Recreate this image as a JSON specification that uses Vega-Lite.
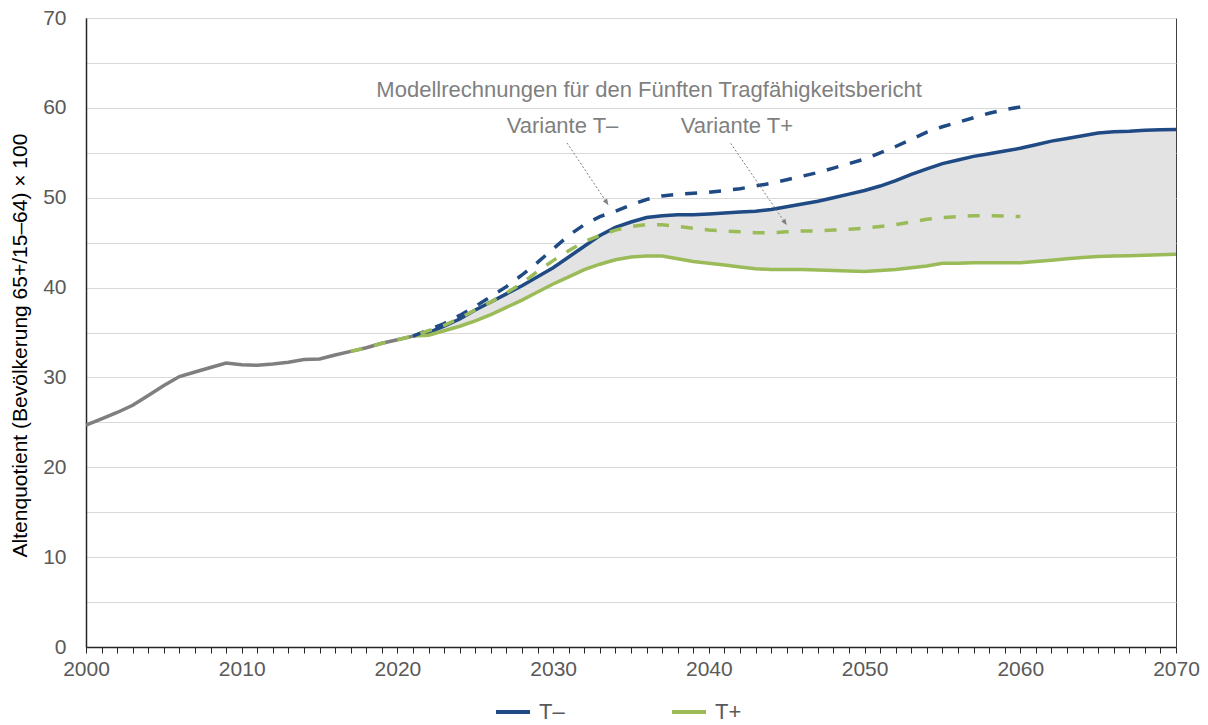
{
  "$schema": "https://vega.github.io/schema/vega-lite/v6.json",
  "width": 1090,
  "height": 629,
  "autosize": {"type": "none"},
  "padding": {"left": 86, "top": 18, "right": 32, "bottom": 78},
  "background": "white",
  "config": {
    "font": "Liberation Sans",
    "view": {"stroke": "#404040", "strokeWidth": 1}
  },
  "datasets": {
    "lines": [
      {"s":"hist","year":2000,"v":24.7},{"s":"hist","year":2001,"v":25.4},{"s":"hist","year":2002,"v":26.1},{"s":"hist","year":2003,"v":26.9},{"s":"hist","year":2004,"v":28.0},{"s":"hist","year":2005,"v":29.1},{"s":"hist","year":2006,"v":30.1},{"s":"hist","year":2007,"v":30.6},{"s":"hist","year":2008,"v":31.1},{"s":"hist","year":2009,"v":31.6},{"s":"hist","year":2010,"v":31.4},{"s":"hist","year":2011,"v":31.35},{"s":"hist","year":2012,"v":31.5},{"s":"hist","year":2013,"v":31.7},{"s":"hist","year":2014,"v":32.0},{"s":"hist","year":2015,"v":32.05},{"s":"hist","year":2016,"v":32.5},{"s":"hist","year":2017,"v":32.9},{"s":"hist","year":2018,"v":33.3},{"s":"hist","year":2019,"v":33.8},{"s":"hist","year":2020,"v":34.2},{"s":"hist","year":2021,"v":34.6},

      {"s":"tm","year":2021,"v":34.6},{"s":"tm","year":2022,"v":35.0},{"s":"tm","year":2023,"v":35.7},{"s":"tm","year":2024,"v":36.5},{"s":"tm","year":2025,"v":37.5},{"s":"tm","year":2026,"v":38.4},{"s":"tm","year":2027,"v":39.3},{"s":"tm","year":2028,"v":40.2},{"s":"tm","year":2029,"v":41.2},{"s":"tm","year":2030,"v":42.2},{"s":"tm","year":2031,"v":43.4},{"s":"tm","year":2032,"v":44.6},{"s":"tm","year":2033,"v":45.8},{"s":"tm","year":2034,"v":46.7},{"s":"tm","year":2035,"v":47.3},{"s":"tm","year":2036,"v":47.8},{"s":"tm","year":2037,"v":48.0},{"s":"tm","year":2038,"v":48.1},{"s":"tm","year":2039,"v":48.1},{"s":"tm","year":2040,"v":48.2},{"s":"tm","year":2041,"v":48.3},{"s":"tm","year":2042,"v":48.4},{"s":"tm","year":2043,"v":48.5},{"s":"tm","year":2044,"v":48.7},{"s":"tm","year":2045,"v":49.0},{"s":"tm","year":2046,"v":49.3},{"s":"tm","year":2047,"v":49.6},{"s":"tm","year":2048,"v":50.0},{"s":"tm","year":2049,"v":50.4},{"s":"tm","year":2050,"v":50.8},{"s":"tm","year":2051,"v":51.3},{"s":"tm","year":2052,"v":51.9},{"s":"tm","year":2053,"v":52.6},{"s":"tm","year":2054,"v":53.2},{"s":"tm","year":2055,"v":53.8},{"s":"tm","year":2056,"v":54.2},{"s":"tm","year":2057,"v":54.6},{"s":"tm","year":2058,"v":54.9},{"s":"tm","year":2059,"v":55.2},{"s":"tm","year":2060,"v":55.5},{"s":"tm","year":2061,"v":55.9},{"s":"tm","year":2062,"v":56.3},{"s":"tm","year":2063,"v":56.6},{"s":"tm","year":2064,"v":56.9},{"s":"tm","year":2065,"v":57.2},{"s":"tm","year":2066,"v":57.35},{"s":"tm","year":2067,"v":57.4},{"s":"tm","year":2068,"v":57.5},{"s":"tm","year":2069,"v":57.55},{"s":"tm","year":2070,"v":57.6},

      {"s":"tp","year":2021,"v":34.6},{"s":"tp","year":2022,"v":34.7},{"s":"tp","year":2023,"v":35.2},{"s":"tp","year":2024,"v":35.7},{"s":"tp","year":2025,"v":36.3},{"s":"tp","year":2026,"v":37.0},{"s":"tp","year":2027,"v":37.8},{"s":"tp","year":2028,"v":38.6},{"s":"tp","year":2029,"v":39.5},{"s":"tp","year":2030,"v":40.4},{"s":"tp","year":2031,"v":41.2},{"s":"tp","year":2032,"v":42.0},{"s":"tp","year":2033,"v":42.6},{"s":"tp","year":2034,"v":43.1},{"s":"tp","year":2035,"v":43.4},{"s":"tp","year":2036,"v":43.5},{"s":"tp","year":2037,"v":43.5},{"s":"tp","year":2038,"v":43.2},{"s":"tp","year":2039,"v":42.9},{"s":"tp","year":2040,"v":42.7},{"s":"tp","year":2041,"v":42.5},{"s":"tp","year":2042,"v":42.3},{"s":"tp","year":2043,"v":42.1},{"s":"tp","year":2044,"v":42.0},{"s":"tp","year":2045,"v":42.0},{"s":"tp","year":2046,"v":42.0},{"s":"tp","year":2047,"v":41.95},{"s":"tp","year":2048,"v":41.9},{"s":"tp","year":2049,"v":41.85},{"s":"tp","year":2050,"v":41.8},{"s":"tp","year":2051,"v":41.9},{"s":"tp","year":2052,"v":42.0},{"s":"tp","year":2053,"v":42.2},{"s":"tp","year":2054,"v":42.4},{"s":"tp","year":2055,"v":42.7},{"s":"tp","year":2056,"v":42.7},{"s":"tp","year":2057,"v":42.75},{"s":"tp","year":2058,"v":42.75},{"s":"tp","year":2059,"v":42.75},{"s":"tp","year":2060,"v":42.75},{"s":"tp","year":2061,"v":42.9},{"s":"tp","year":2062,"v":43.05},{"s":"tp","year":2063,"v":43.2},{"s":"tp","year":2064,"v":43.35},{"s":"tp","year":2065,"v":43.45},{"s":"tp","year":2066,"v":43.5},{"s":"tp","year":2067,"v":43.55},{"s":"tp","year":2068,"v":43.6},{"s":"tp","year":2069,"v":43.65},{"s":"tp","year":2070,"v":43.7},

      {"s":"tm_model","year":2021,"v":34.6},{"s":"tm_model","year":2022,"v":35.3},{"s":"tm_model","year":2023,"v":36.0},{"s":"tm_model","year":2024,"v":36.9},{"s":"tm_model","year":2025,"v":37.9},{"s":"tm_model","year":2026,"v":39.0},{"s":"tm_model","year":2027,"v":40.1},{"s":"tm_model","year":2028,"v":41.4},{"s":"tm_model","year":2029,"v":42.8},{"s":"tm_model","year":2030,"v":44.3},{"s":"tm_model","year":2031,"v":45.8},{"s":"tm_model","year":2032,"v":47.0},{"s":"tm_model","year":2033,"v":47.9},{"s":"tm_model","year":2034,"v":48.5},{"s":"tm_model","year":2035,"v":49.2},{"s":"tm_model","year":2036,"v":49.8},{"s":"tm_model","year":2037,"v":50.2},{"s":"tm_model","year":2038,"v":50.4},{"s":"tm_model","year":2039,"v":50.5},{"s":"tm_model","year":2040,"v":50.6},{"s":"tm_model","year":2041,"v":50.8},{"s":"tm_model","year":2042,"v":51.0},{"s":"tm_model","year":2043,"v":51.3},{"s":"tm_model","year":2044,"v":51.6},{"s":"tm_model","year":2045,"v":52.0},{"s":"tm_model","year":2046,"v":52.4},{"s":"tm_model","year":2047,"v":52.8},{"s":"tm_model","year":2048,"v":53.3},{"s":"tm_model","year":2049,"v":53.8},{"s":"tm_model","year":2050,"v":54.3},{"s":"tm_model","year":2051,"v":55.0},{"s":"tm_model","year":2052,"v":55.7},{"s":"tm_model","year":2053,"v":56.5},{"s":"tm_model","year":2054,"v":57.3},{"s":"tm_model","year":2055,"v":57.9},{"s":"tm_model","year":2056,"v":58.4},{"s":"tm_model","year":2057,"v":58.9},{"s":"tm_model","year":2058,"v":59.4},{"s":"tm_model","year":2059,"v":59.8},{"s":"tm_model","year":2060,"v":60.1},

      {"s":"tp_model","year":2017,"v":32.9},{"s":"tp_model","year":2018,"v":33.3},{"s":"tp_model","year":2019,"v":33.8},{"s":"tp_model","year":2020,"v":34.2},{"s":"tp_model","year":2021,"v":34.6},{"s":"tp_model","year":2022,"v":35.2},{"s":"tp_model","year":2023,"v":35.8},{"s":"tp_model","year":2024,"v":36.6},{"s":"tp_model","year":2025,"v":37.5},{"s":"tp_model","year":2026,"v":38.4},{"s":"tp_model","year":2027,"v":39.4},{"s":"tp_model","year":2028,"v":40.5},{"s":"tp_model","year":2029,"v":41.8},{"s":"tp_model","year":2030,"v":43.0},{"s":"tp_model","year":2031,"v":44.1},{"s":"tp_model","year":2032,"v":45.1},{"s":"tp_model","year":2033,"v":45.8},{"s":"tp_model","year":2034,"v":46.4},{"s":"tp_model","year":2035,"v":46.8},{"s":"tp_model","year":2036,"v":47.0},{"s":"tp_model","year":2037,"v":47.0},{"s":"tp_model","year":2038,"v":46.8},{"s":"tp_model","year":2039,"v":46.6},{"s":"tp_model","year":2040,"v":46.4},{"s":"tp_model","year":2041,"v":46.3},{"s":"tp_model","year":2042,"v":46.2},{"s":"tp_model","year":2043,"v":46.1},{"s":"tp_model","year":2044,"v":46.1},{"s":"tp_model","year":2045,"v":46.2},{"s":"tp_model","year":2046,"v":46.3},{"s":"tp_model","year":2047,"v":46.3},{"s":"tp_model","year":2048,"v":46.4},{"s":"tp_model","year":2049,"v":46.5},{"s":"tp_model","year":2050,"v":46.6},{"s":"tp_model","year":2051,"v":46.8},{"s":"tp_model","year":2052,"v":47.0},{"s":"tp_model","year":2053,"v":47.3},{"s":"tp_model","year":2054,"v":47.6},{"s":"tp_model","year":2055,"v":47.8},{"s":"tp_model","year":2056,"v":47.9},{"s":"tp_model","year":2057,"v":48.0},{"s":"tp_model","year":2058,"v":48.0},{"s":"tp_model","year":2059,"v":47.95},{"s":"tp_model","year":2060,"v":47.9}
    ],
    "notes": [
      {"label":"Modellrechnungen für den Fünften Tragfähigkeitsbericht","year":2036.16,"v":61.2},
      {"label":"Variante T–","year":2030.6,"v":57.2},
      {"label":"Variante T+","year":2041.8,"v":57.2}
    ],
    "arrows": [
      {"arrow":"tm","year":2030.89,"v":56.1,"year2":2033.54,"v2":49.2},
      {"arrow":"tp","year":2041.4,"v":56.05,"year2":2045.0,"v2":46.96}
    ]
  },
  "layer": [
    {
      "data": {"name": "lines"},
      "transform": [
        {"filter": "datum.s === 'tm' || datum.s === 'tp'"},
        {"pivot": "s", "value": "v", "groupby": ["year"]}
      ],
      "mark": {"type": "area", "color": "#e3e3e3", "opacity": 1},
      "encoding": {
        "x": {
          "field": "year", "type": "quantitative",
          "scale": {"domain": [2000, 2070], "nice": false, "zero": false},
          "axis": {
            "title": null,
            "tickCount": 70,
            "format": "d",
            "labelExpr": "datum.value % 10 === 0 ? datum.label : ''",
            "labelOverlap": false,
            "labelFlush": false,
            "labelBound": false,
            "labelFontSize": 21,
            "labelColor": "#595959",
            "labelPadding": 5,
            "ticks": true,
            "tickSize": 6,
            "tickColor": "#262626",
            "tickWidth": 1,
            "domainColor": "#262626",
            "domainWidth": 1.5,
            "grid": false
          }
        },
        "y": {
          "field": "tm", "type": "quantitative",
          "scale": {"domain": [0, 70], "nice": false},
          "axis": {
            "title": "Altenquotient (Bevölkerung 65+/15–64) × 100",
            "titleFontSize": 21,
            "titleFontWeight": "normal",
            "titleColor": "#000000",
            "titleX": -66,
            "titleY": 327,
            "titleAngle": -90,
            "titleBaseline": "middle",
            "titleAlign": "center",
            "values": [0,5,10,15,20,25,30,35,40,45,50,55,60,65,70],
            "labelExpr": "datum.value % 10 === 0 ? datum.label : ''",
            "labelFontSize": 21,
            "labelColor": "#595959",
            "labelPadding": 20,
            "ticks": false,
            "grid": true,
            "gridColor": "#d9d9d9",
            "gridWidth": 1,
            "domainColor": "#262626",
            "domainWidth": 1.5
          }
        },
        "y2": {"field": "tp"}
      }
    },
    {
      "data": {"name": "lines"},
      "transform": [{"filter": "datum.s === 'hist'"}],
      "mark": {"type": "line", "color": "#7f7f7f", "strokeWidth": 3.5},
      "encoding": {
        "x": {"field": "year", "type": "quantitative"},
        "y": {"field": "v", "type": "quantitative"}
      }
    },
    {
      "data": {"name": "lines"},
      "transform": [{"filter": "datum.s === 'tm' || datum.s === 'tp'"}],
      "mark": {"type": "line", "strokeWidth": 3.5},
      "encoding": {
        "x": {"field": "year", "type": "quantitative"},
        "y": {"field": "v", "type": "quantitative"},
        "color": {
          "field": "s", "type": "nominal",
          "scale": {"domain": ["tm", "tp"], "range": ["#1f4a84", "#9bbb59"]},
          "legend": {
            "title": null,
            "orient": "none",
            "legendX": 408,
            "legendY": 675,
            "direction": "horizontal",
            "symbolType": "stroke",
            "symbolSize": 1156,
            "symbolStrokeWidth": 4,
            "labelFontSize": 22,
            "labelColor": "#595959",
            "labelOffset": 7,
            "columnPadding": 99,
            "labelExpr": "datum.value === 'tm' ? 'T–' : 'T+'"
          }
        }
      }
    },
    {
      "data": {"name": "lines"},
      "transform": [{"filter": "datum.s === 'tm_model'"}],
      "mark": {"type": "line", "color": "#1f4a84", "strokeWidth": 3.5, "strokeDash": [12, 12]},
      "encoding": {
        "x": {"field": "year", "type": "quantitative"},
        "y": {"field": "v", "type": "quantitative"}
      }
    },
    {
      "data": {"name": "lines"},
      "transform": [{"filter": "datum.s === 'tp_model'"}],
      "mark": {"type": "line", "color": "#9bbb59", "strokeWidth": 3.5, "strokeDash": [12, 12]},
      "encoding": {
        "x": {"field": "year", "type": "quantitative"},
        "y": {"field": "v", "type": "quantitative"}
      }
    },
    {
      "data": {"name": "arrows"},
      "mark": {"type": "rule", "color": "#7f7f7f", "strokeWidth": 1, "strokeDash": [2, 2]},
      "encoding": {
        "x": {"field": "year", "type": "quantitative"},
        "y": {"field": "v", "type": "quantitative"},
        "x2": {"field": "year2"},
        "y2": {"field": "v2"}
      }
    },
    {
      "data": {"name": "arrows"},
      "transform": [{"filter": "datum.arrow === 'tm'"}],
      "mark": {"type": "point", "shape": "M0,0L-0.42,-1L0.42,-1Z", "size": 144, "filled": true, "color": "#7f7f7f", "opacity": 1, "angle": -33},
      "encoding": {
        "x": {"field": "year2", "type": "quantitative"},
        "y": {"field": "v2", "type": "quantitative"}
      }
    },
    {
      "data": {"name": "arrows"},
      "transform": [{"filter": "datum.arrow === 'tp'"}],
      "mark": {"type": "point", "shape": "M0,0L-0.42,-1L0.42,-1Z", "size": 144, "filled": true, "color": "#7f7f7f", "opacity": 1, "angle": -34},
      "encoding": {
        "x": {"field": "year2", "type": "quantitative"},
        "y": {"field": "v2", "type": "quantitative"}
      }
    },
    {
      "data": {"name": "notes"},
      "mark": {"type": "text", "fontSize": 22, "color": "#7f7f7f", "align": "center", "baseline": "alphabetic"},
      "encoding": {
        "x": {"field": "year", "type": "quantitative"},
        "y": {"field": "v", "type": "quantitative"},
        "text": {"field": "label"}
      }
    }
  ]
}
